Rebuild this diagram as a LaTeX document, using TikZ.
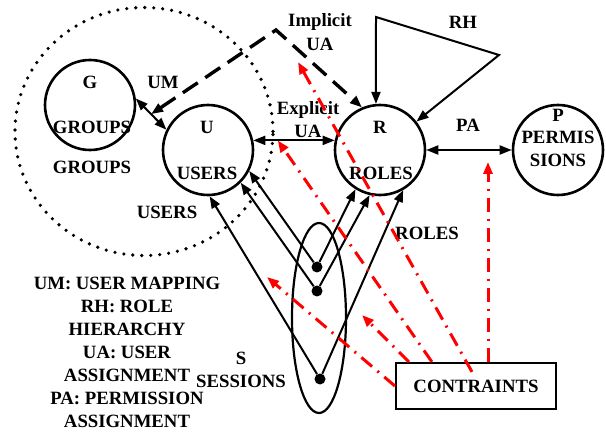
\documentclass[tikz,border=0pt]{standalone}
\usepackage{fontspec}
\setmainfont{Liberation Serif}
\usetikzlibrary{arrows.meta,shapes.geometric,calc}

\tikzset{
  tip/.tip={Triangle[length=12pt,width=9pt]},
  setcirc/.style={draw, circle, line width=2.6pt, minimum size=90pt, inner sep=0pt},
  link/.style={line width=2pt, -tip},
  both/.style={line width=2pt, tip-tip},
  impl/.style={line width=3.4pt, dash pattern=on 18pt off 9pt, tip-tip},
  cons/.style={red, line width=3pt, dash pattern=on 14pt off 7pt on 2pt off 7pt, -tip},
  sdot/.style={circle, fill, inner sep=0pt, minimum size=11pt}
}

\begin{document}
\begin{tikzpicture}[x=1pt, y=-1pt, every node/.style={font=\fontsize{18.75}{23}\selectfont\bfseries}]
  \useasboundingbox (0,0) rectangle (606,433);

  \draw[line width=3.6pt, line cap=round, dash pattern=on 0pt off 9pt] (144,131.5) ellipse (129pt and 124pt);

  \node[setcirc] (G) at (90,105) {};
  \node[setcirc] (U) at (208,150) {};
  \node[setcirc] (R) at (380,150) {};
  \node[setcirc] (P) at (558,150) {};
  \node[draw, ellipse, line width=2.2pt, minimum width=54pt, minimum height=190pt] (S) at (319,318) {};
  \node[draw, line width=2.2pt, minimum width=160pt, minimum height=46pt] (C) at (476,386) {CONTRAINTS};

  \node (Gt) at (90,82) {G};
  \node (Gb) at (92,127) {GROUPS};
  \node (Ut) at (207,127) {U};
  \node (Ub) at (207,173) {USERS};
  \node (Rt) at (380,127) {R};
  \node (Rb) at (381,173) {ROLES};
  \node[align=center] (Pt) at (558,138) {P\\[-1pt]PERMIS\\SIONS};
  \node (grp) at (92,167) {GROUPS};
  \node (usr) at (167,212) {USERS};
  \node (rol) at (427,233) {ROLES};
  \node[align=center] (ses) at (241,370) {S\\SESSIONS};
  \node (um-l) at (163,82) {UM};
  \node[align=center] (imp-l) at (320,32) {Implicit\\[1pt]UA};
  \node[align=center] (exp-l) at (308,120) {Explicit\\UA};
  \node (rh-l) at (463,22) {RH};
  \node (pa-l) at (468,125) {PA};
  \node[align=center] (key) at (127,352) {UM: USER MAPPING\\RH: ROLE\\HIERARCHY\\UA: USER\\ASSIGNMENT\\PA: PERMISSION\\ASSIGNMENT};

  \node[sdot] (s1) at (317,267) {};
  \node[sdot] (s2) at (317,291) {};
  \node[sdot] (s3) at (320,379) {};

  \draw[both] (G.8) -- (U.154);
  \draw[both] (U.12) -- (R.168);
  \draw[both] (R.east) -- (P.west);
  \coordinate (rh1) at (376,17);
  \coordinate (rh2) at (499,55);
  \draw[both, line join=miter] (R.95) -- (rh1) -- (rh2) -- (R.38);

  \coordinate (um) at ($(G.8)!0.5!(U.154)$);
  \coordinate (imp) at (276,30);
  \draw[impl] (um) -- (imp) -- (R.113);

  \foreach \s/\u/\r in {s1/-27/-122, s2/-45/-103, s3/-88/-60} {
    \draw[link] (\s) -- (U.\u);
    \draw[link] (\s) -- (R.\r);
  }

  \coordinate (ca) at (267,277);
  \coordinate (cb) at (362,315);
  \coordinate (cc) at ($(U.12)!0.3!(R.168)$);
  \coordinate (cd) at (298,62);
  \coordinate (ce) at (488,162);
  \draw[cons] (C.west) -- (ca);
  \draw[cons] ($(C.north west)+(14,0)$) -- (cb);
  \draw[cons] ($(C.north west)+(37,0)$) -- (cc);
  \draw[cons] ($(C.north)+(-4,10)$) -- (cd);
  \draw[cons] (C.north -| ce) -- (ce);
\end{tikzpicture}
\end{document}
